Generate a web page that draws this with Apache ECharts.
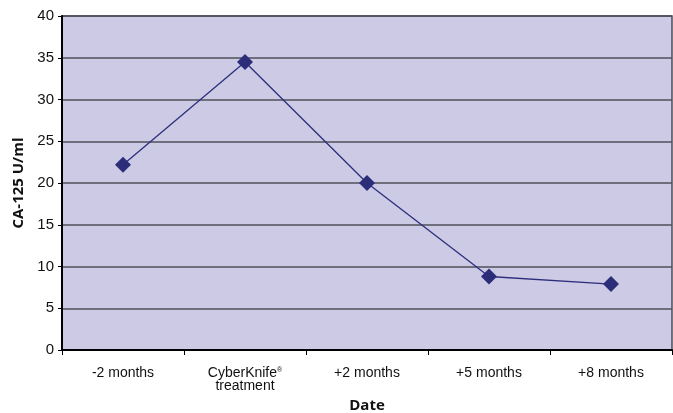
<!DOCTYPE html>
<html><head><meta charset="utf-8">
<script src="https://cdn.jsdelivr.net/npm/echarts@6/dist/echarts.min.js"></script>
<style>html,body{margin:0;padding:0;background:#fff}#c{width:673px;height:413px}</style>
</head><body><div id="c"></div>
<script>
const categories = ['-2 months', 'CyberKnife® treatment', '+2 months', '+5 months', '+8 months'];
const ca125 = [22.2, 34.5, 20.0, 8.8, 7.9];
const yTicks = [0, 5, 10, 15, 20, 25, 30, 35, 40];

const chart = echarts.init(document.getElementById('c'));
chart.setOption({
  animation: false,
  grid: { left: 62, right: 1, top: 16, bottom: 63, outerBoundsMode: 'none', containLabel: false, show: true, backgroundColor: '#cdcae5', borderColor: '#4a4a55', borderWidth: 1.5 },
  xAxis: {
    type: 'category', data: categories, boundaryGap: true,
    name: 'Date', nameLocation: 'middle', nameGap: 45,
    nameTextStyle: { fontFamily: 'Open Sans', fontWeight: 'bold', fontSize: 15, color: '#111' },
    axisLine: { lineStyle: { color: '#000', width: 2 } },
    axisTick: { show: true, alignWithLabel: false, length: 5, lineStyle: { color: '#000' } },
    axisLabel: {
      interval: 0, margin: 17, color: '#111', fontFamily: 'Liberation Sans', fontSize: 14,
      formatter: function (v) {
        if (v.indexOf('CyberKnife') === 0) return '{a|CyberKnife}{s|®}\n{a|treatment}';
        return '{a|' + v + '}';
      },
      rich: {
        a: { fontFamily: 'Liberation Sans', fontSize: 14, color: '#111', lineHeight: 13 },
        s: { fontFamily: 'Liberation Sans', fontSize: 7, color: '#111', verticalAlign: 'top', lineHeight: 13 }
      }
    },
    splitLine: { show: false }
  },
  yAxis: {
    type: 'value', min: yTicks[0], max: yTicks[yTicks.length - 1], interval: 5,
    name: 'CA-125 U/ml', nameLocation: 'middle', nameGap: 34, nameRotate: 90,
    nameTextStyle: { fontFamily: 'Open Sans', fontWeight: 'bold', fontSize: 15, color: '#111' },
    axisLine: { show: true, lineStyle: { color: '#000', width: 2 } },
    axisTick: { show: true, length: 4, lineStyle: { color: '#000' } },
    axisLabel: { color: '#111', fontFamily: 'Liberation Sans', fontSize: 15, margin: 8 },
    splitLine: { show: true, lineStyle: { color: '#4f4f5a', width: 1.5 } }
  },
  series: [{
    type: 'line', data: ca125,
    symbol: 'diamond', symbolSize: 16,
    lineStyle: { color: '#2d2f7c', width: 1.3 },
    itemStyle: { color: '#2b2d78' }
  }]
});
</script></body></html>
